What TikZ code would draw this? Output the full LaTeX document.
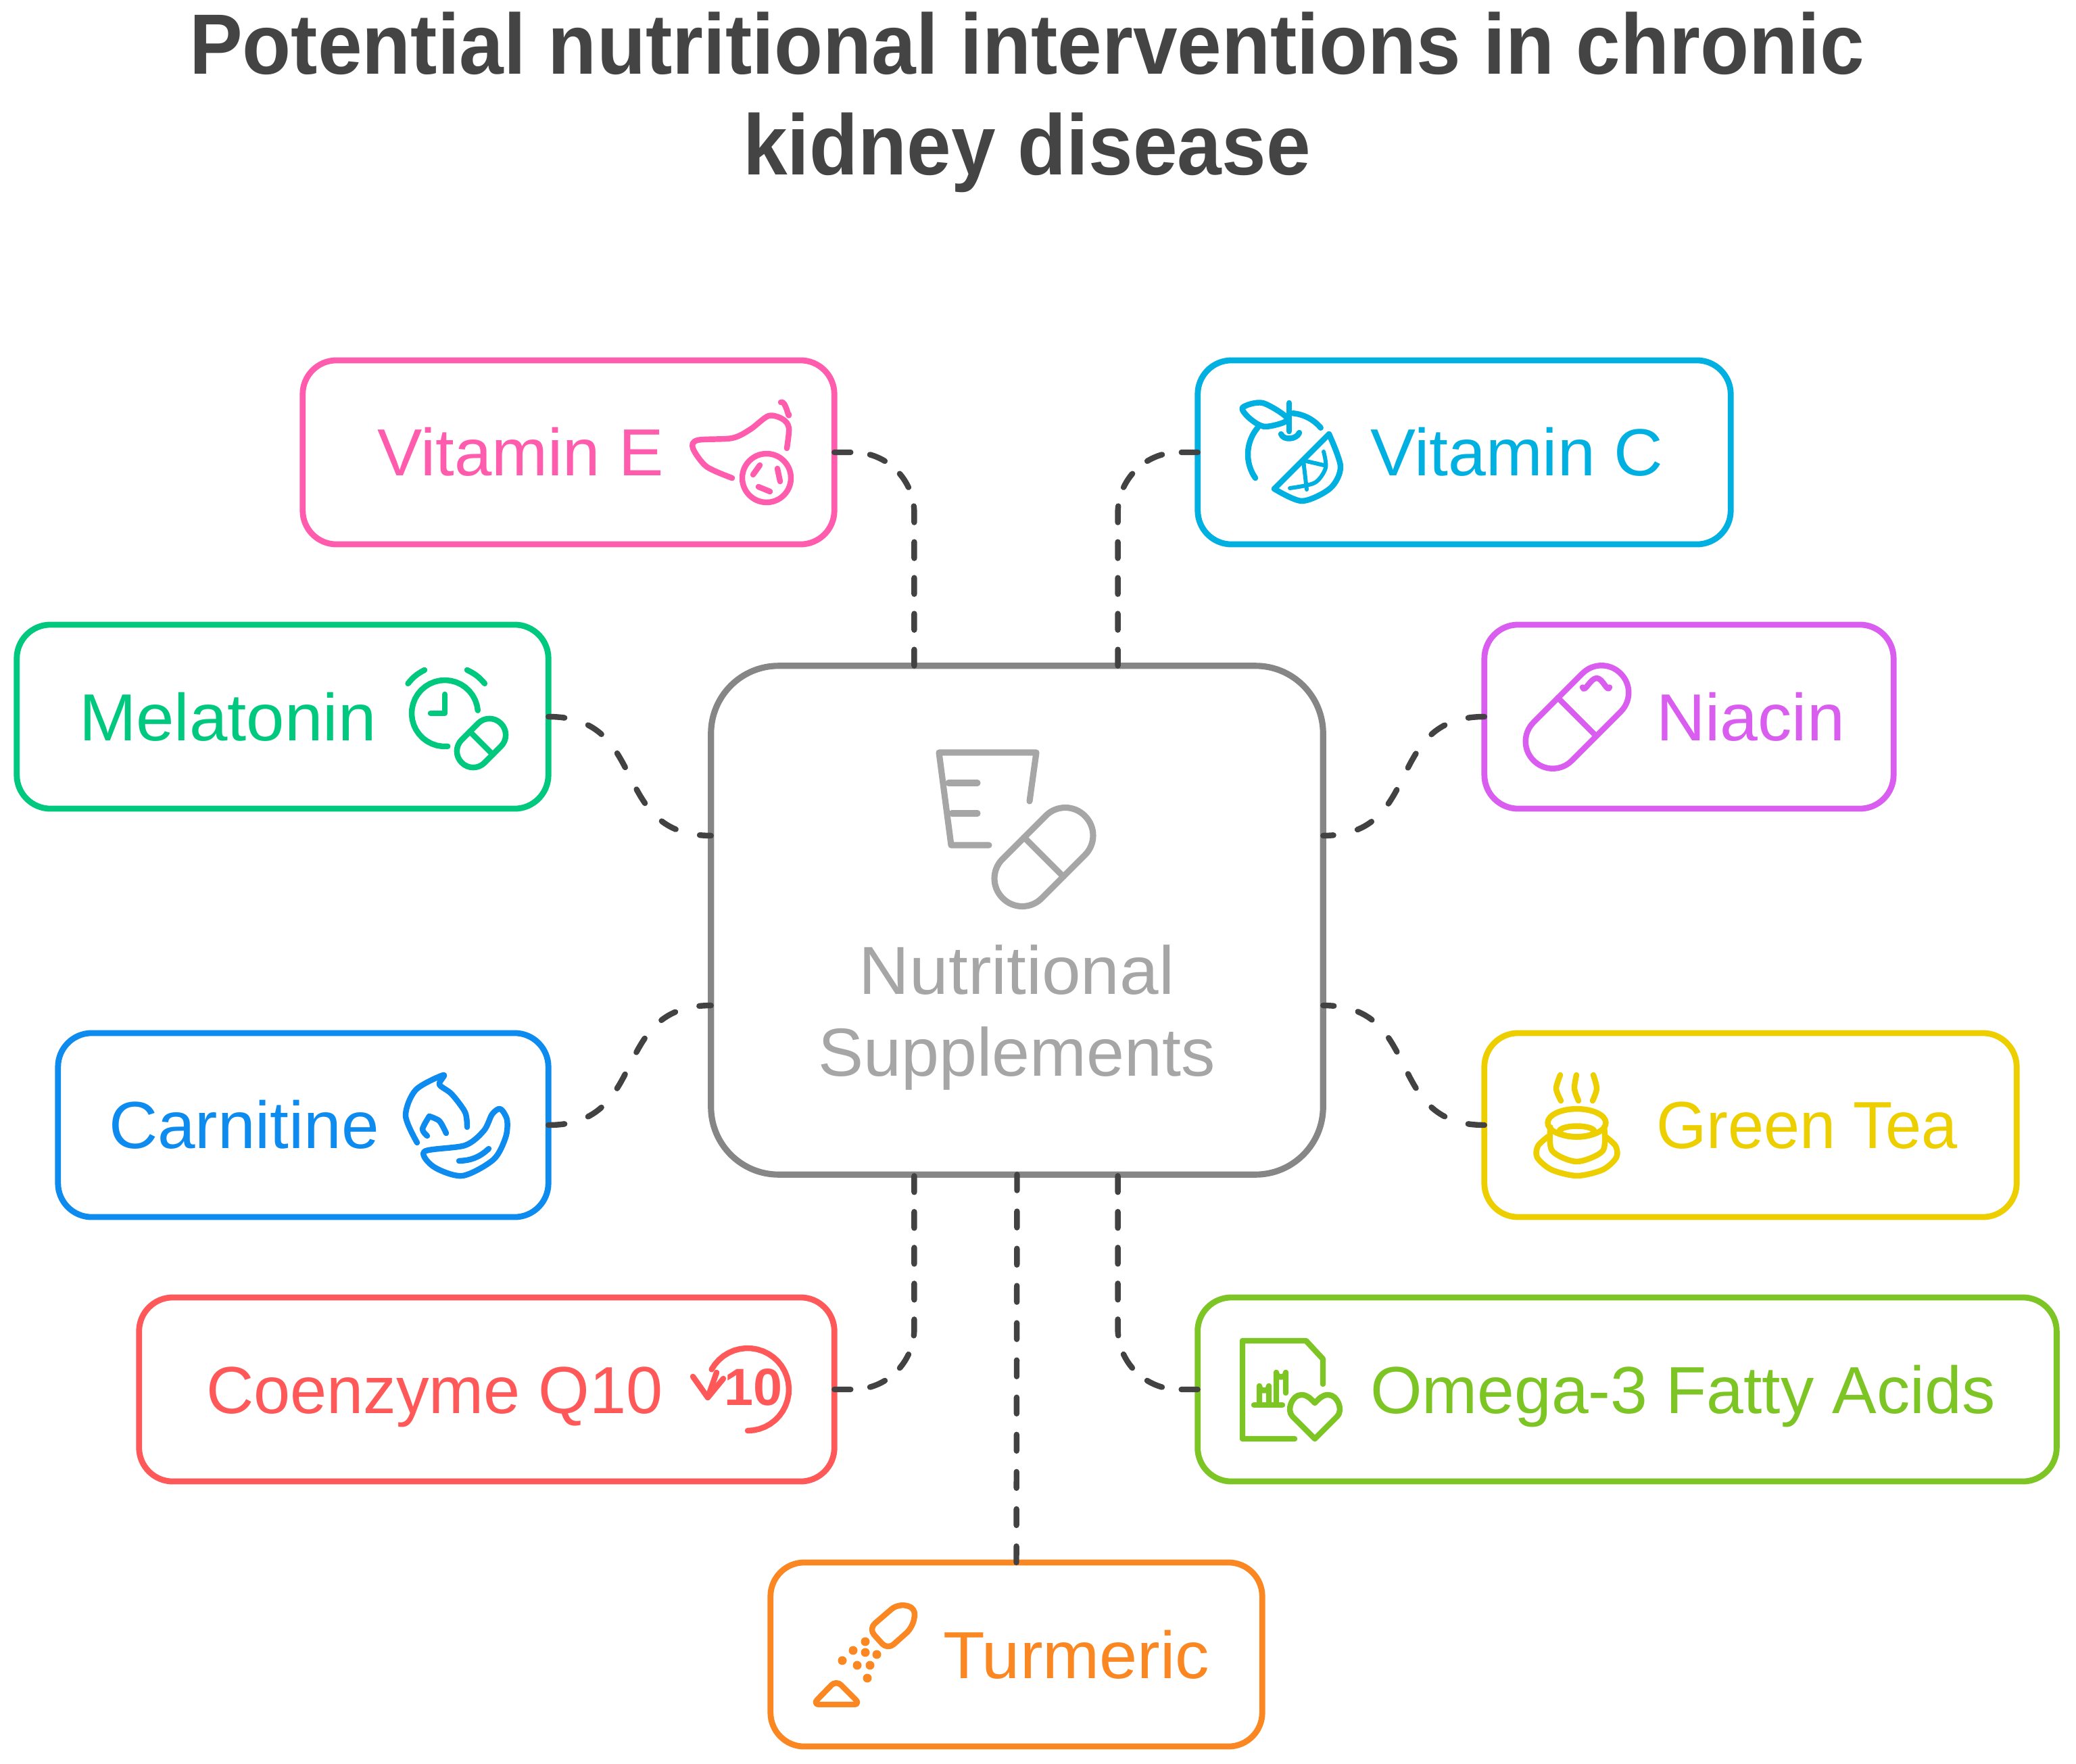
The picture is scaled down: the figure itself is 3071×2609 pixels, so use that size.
\documentclass[tikz,border=0pt]{standalone}
\usepackage{fontspec}
\usepackage{graphicx}
\setmainfont{Liberation Sans}
\newfontfamily\titlefont[FakeStretch=.932]{Liberation Sans}
\usetikzlibrary{positioning}

\definecolor{pinkc}{HTML}{FF5CAD}
\definecolor{cyanc}{HTML}{00B0E0}
\definecolor{greenc}{HTML}{00C87E}
\definecolor{violetc}{HTML}{D95DEF}
\definecolor{bluec}{HTML}{0D8BEE}
\definecolor{yellowc}{HTML}{EDCF00}
\definecolor{redc}{HTML}{FF5858}
\definecolor{limec}{HTML}{7DC425}
\definecolor{orangec}{HTML}{FA8722}
\definecolor{hubc}{HTML}{868686}
\definecolor{hubtext}{HTML}{A6A6A6}
\definecolor{linkc}{HTML}{424242}
\definecolor{titlec}{HTML}{444444}

\tikzset{
	itembox/.style={draw, rectangle, rounded corners=.5cm, line width=2.5pt, inner sep=0, outer sep=0, minimum height=2.72cm},
	itemlabel/.style={inner sep=0, outer sep=0, anchor=base west, font=\fontsize{28}{34}\selectfont},
	linkline/.style={draw=linkc, line width=2.4pt, line cap=round, dash pattern=on 6.83pt off #1},
	iconline/.style={line width=2.4pt, line cap=round, line join=round},
}

\newcommand{\pillicon}[5]{
	\begin{scope}[shift={(#1,#2)},rotate=#5]
		\draw[rounded corners=#4*.0099cm] (-#3,-#4) rectangle (#3,#4);
		\draw (0,-#4) -- (0,#4);
	\end{scope}
}
\newcommand{\arcicon}[5]{
	\draw plot[domain=#4:#5,samples=30] ({#1+#3*cos(\x)},{#2-#3*sin(\x)});
}

\begin{document}
\begin{tikzpicture}[x=.01cm,y=-.01cm]
	\useasboundingbox (0,0) rectangle (3071,2609);

	\node[titlec, align=center, font=\fontsize{36}{42.4}\selectfont\titlefont\bfseries] (title) at (1519,151) {Potential nutritional interventions in chronic\\kidney disease};

	\node[draw=hubc, rectangle, rounded corners=1cm, line width=2.6pt, inner sep=0, outer sep=0, minimum width=9.05cm, minimum height=7.52cm] (hub) at (1504.5,1361) {};
	\node[hubtext, align=center, font=\fontsize{28.6}{34.6}\selectfont] (hublabel) at (1504,1505) {\scalebox{1.03}[1]{Nutritional}\\Supplements};

	\node[itembox, draw=pinkc, minimum width=7.86cm] (vite) at (841,669) {};
	\node[itembox, draw=cyanc, minimum width=7.88cm] (vitc) at (2166,669) {};
	\node[itembox, draw=greenc, minimum width=7.86cm] (mela) at (418,1060) {};
	\node[itembox, draw=violetc, minimum width=6.05cm] (niac) at (2498.5,1060) {};
	\node[itembox, draw=bluec, minimum width=7.25cm] (carn) at (448.5,1664) {};
	\node[itembox, draw=yellowc, minimum width=7.87cm] (gtea) at (2589.5,1664) {};
	\node[itembox, draw=redc, minimum width=10.28cm] (coen) at (720,2055) {};
	\node[itembox, draw=limec, minimum width=12.7cm] (omeg) at (2407,2055) {};
	\node[itembox, draw=orangec, minimum width=7.27cm] (turm) at (1503.5,2447) {};

	\node[itemlabel, pinkc] (vitelabel) at (558,703) {\scalebox{1.01}[1]{Vitamin E}};
	\node[itemlabel, cyanc] (vitclabel) at (2027,703) {\scalebox{1.02}[1]{Vitamin C}};
	\node[itemlabel, greenc] (melalabel) at (117,1095) {\scalebox{1.03}[1]{Melatonin}};
	\node[itemlabel, violetc] (niaclabel) at (2450,1095) {\scalebox{1.02}[1]{Niacin}};
	\node[itemlabel, bluec] (carnlabel) at (161,1698) {\scalebox{1.015}[1]{Carnitine}};
	\node[itemlabel, yellowc] (gtealabel) at (2450,1698) {\scalebox{.97}[1]{Green Tea}};
	\node[itemlabel, redc] (coenlabel) at (305,2090) {\scalebox{.988}[1]{Coenzyme Q10}};
	\node[itemlabel, limec] (omeglabel) at (2027,2090) {Omega-3 Fatty Acids};
	\node[itemlabel, orangec] (turmlabel) at (1395,2482) {\scalebox{1.025}[1]{Turmeric}};

	\coordinate (hubtl) at ([xshift=-1.52cm]hub.north);
	\coordinate (hubtr) at ([xshift=1.49cm]hub.north);
	\coordinate (hubbl) at ([xshift=-1.52cm]hub.south);
	\coordinate (hubbr) at ([xshift=1.49cm]hub.south);
	\coordinate (hubwu) at ([yshift=1.25cm]hub.west);
	\coordinate (hubwd) at ([yshift=-1.26cm]hub.west);
	\coordinate (hubeu) at ([yshift=1.25cm]hub.east);
	\coordinate (hubed) at ([yshift=-1.26cm]hub.east);

	\draw[linkline=8.25pt, rounded corners=.9cm] (vite.east) -| (hubtl);
	\draw[linkline=8.25pt, rounded corners=.9cm] (vitc.west) -| (hubtr);
	\draw[linkline=8.25pt, rounded corners=.9cm] (coen.east) -| (hubbl);
	\draw[linkline=8.25pt, rounded corners=.9cm] (omeg.west) -| (hubbr);
	\draw[linkline=8.82pt] (turm.north) -- (hub.south);
	\draw[linkline=10.4pt] (mela.east) to[out=0,in=180,looseness=1.3] (hubwu);
	\draw[linkline=10.4pt] (carn.east) to[out=0,in=180,looseness=1.3] (hubwd);
	\draw[linkline=10.4pt] (niac.west) to[out=180,in=0,looseness=1.3] (hubeu);
	\draw[linkline=10.4pt] (gtea.west) to[out=180,in=0,looseness=1.3] (hubed);

	\begin{scope}[iconline, hubtext, line width=2.6pt]
		\draw (1463,1250) -- (1407,1250) -- (1389,1113) -- (1533,1113) -- (1523,1185);
		\draw (1403,1158) -- (1446,1158);
		\draw (1408,1203) -- (1446,1203);
		\pillicon{1544}{1267.5}{86}{41}{45}
	\end{scope}

	\begin{scope}[iconline, pinkc]
		\draw plot[smooth] coordinates {(1083,707) (1045,690) (1025,663) (1032,651) (1083,648) (1110,635) (1137,615) (1158,620) (1167,633) (1164,663)};
		\draw (1155,595) to[out=30,in=-90] (1167,613);
		\draw (1134,707) circle (36);
		\draw (1124,688) -- (1114,702);
		\draw (1150,693) -- (1154,712);
		\draw (1122,720) -- (1139,727);
	\end{scope}

	\begin{scope}[iconline, cyanc]
		\draw plot[smooth cycle] coordinates {(1838,603) (1868,596) (1905,620) (1872,631) (1850,620)};
		\draw (1907,596) -- (1907,638);
		\draw (1895,642) to[out=-70,in=-110] (1922,640);
		\arcicon{1907}{672}{61}{140}{215}
		\arcicon{1907}{672}{61}{85}{40}
		\draw plot[smooth] coordinates {(1966,642) (1983,690) (1968,722) (1926,741) (1885,723)};
		\draw (1885,723) -- (1966,642);
		\draw[line width=1.7pt] plot[smooth] coordinates {(1958,668) (1961,692) (1945,714) (1908,722)};
		\draw[line width=1.7pt] (1928,681) -- (1958,688);
		\draw[line width=1.7pt] (1928,681) -- (1933,724);
	\end{scope}

	\begin{scope}[iconline, greenc]
		\arcicon{658}{1055}{49}{5}{275}
		\draw (658,1027) -- (658,1055) -- (637,1055);
		\draw (603.5,1011) to[bend left=12] (628,991);
		\draw (691,991) to[bend left=12] (717,1011);
		\pillicon{712}{1099}{41}{24}{45}
	\end{scope}

	\begin{scope}[iconline, violetc]
		\pillicon{2333}{1060.5}{91}{40}{45}
		\draw (2341,1016.5) to[out=-70,in=180] (2362,1003) to[out=0,in=-110] (2381,1016.5);
	\end{scope}

	\begin{scope}[iconline, bluec]
		\draw plot[smooth] coordinates {(617,1690) (600,1650) (615,1612) (656,1590) (650,1604) (668,1618) (688,1645) (691,1667)};
		\draw plot[smooth] coordinates {(635,1651) (625,1670) (632,1680)};
		\draw plot[smooth] coordinates {(635,1651) (650,1658) (660,1676)};
		\draw plot[smooth cycle] coordinates {(628,1703) (688,1694) (716,1672) (728,1648) (740,1640) (750,1656) (748,1682) (730,1715) (684,1739) (642,1726)};
		\draw (679,1717) to[bend right=20] (723,1699);
	\end{scope}

	\begin{scope}[iconline, yellowc]
		\draw plot[smooth] coordinates {(2308,1590) (2302,1610) (2309,1628)};
		\draw plot[smooth] coordinates {(2332,1590) (2329,1610) (2335,1628)};
		\draw plot[smooth] coordinates {(2357,1590) (2362,1610) (2356,1628)};
		\draw (2332.5,1660.7) ellipse (43 and 20.6);
		\draw (2332.5,1673.5) ellipse (26 and 8);
		\draw plot[smooth] coordinates {(2293.5,1667) (2296,1702) (2332.5,1718) (2371,1702) (2373,1667)};
		\draw plot[smooth] coordinates {(2290,1681) (2275,1695) (2274,1712) (2295,1730) (2333,1739) (2371,1730) (2391,1712) (2390,1695) (2375,1681)};
	\end{scope}

	\begin{scope}[iconline, redc]
		\arcicon{1106}{2055}{61}{151}{-90}
		\draw (1025,2036) -- (1047,2067) -- (1070,2039);
		\draw (1047,2067) -- (1060,2030);
		\node[redc, inner sep=0, font=\fontsize{22}{22}\selectfont\bfseries] (coenten) at (1115,2052) {10};
	\end{scope}

	\begin{scope}[iconline, limec]
		\draw (1957,2047) -- (1957,2010) -- (1932,1983) -- (1838,1983) -- (1838,2128) -- (1915,2128);
		\draw (1855,2078) -- (1897,2078);
		\draw (1863,2078) -- (1863,2050) to[out=-90,in=-90,looseness=1.6] (1877,2050) -- (1877,2078);
		\draw (1888,2078) -- (1888,2030) to[out=-90,in=-90,looseness=1.6] (1902,2030) -- (1902,2060);
		\draw (1945,2128) -- (1912,2095) to[out=135,in=180] (1925,2063) to[out=0,in=135] (1945,2075) to[out=45,in=180] (1965,2063) to[out=0,in=45] (1978,2095) -- cycle;
	\end{scope}

	\begin{scope}[iconline, orangec]
		\draw[rounded corners=.12cm] (1285,2409) -- (1328,2372) -- (1355,2378) -- (1350,2407) -- (1313,2440) -- cycle;
		\foreach \dotx/\doty in {1280/2428, 1262/2441, 1280/2444, 1297/2447, 1246/2456, 1268/2463, 1287/2463, 1283/2482}
			\fill (\dotx,\doty) circle (6.5);
		\draw[rounded corners=.1cm] (1202,2521) -- (1237,2485) -- (1273,2521) -- cycle;
	\end{scope}
\end{tikzpicture}
\end{document}
